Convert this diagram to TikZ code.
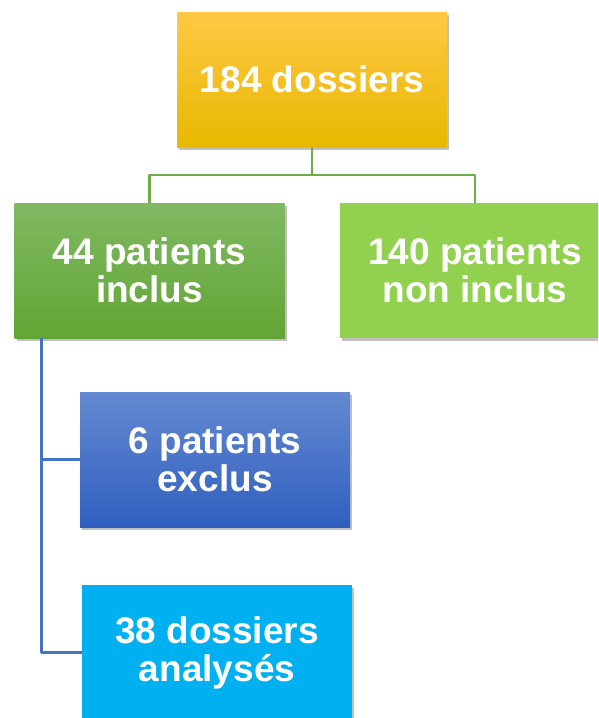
\documentclass[tikz,border=0pt]{standalone}
\usepackage{fontspec}
\setmainfont{Liberation Sans}
\usetikzlibrary{shadows}
\definecolor{orTop}{HTML}{FFC845}
\definecolor{orMid}{HTML}{FFC000}
\definecolor{orBot}{HTML}{E9B800}
\definecolor{grTop}{HTML}{80B962}
\definecolor{grMid}{HTML}{6EAE46}
\definecolor{grBot}{HTML}{62A535}
\definecolor{lgreen}{HTML}{92D050}
\definecolor{blTop}{HTML}{6589D1}
\definecolor{blMid}{HTML}{4472C4}
\definecolor{blBot}{HTML}{2F5FBF}
\definecolor{cyan}{HTML}{00B0F0}
\definecolor{lnGreen}{HTML}{70AD47}
\definecolor{lnBlue}{HTML}{4472C4}
\begin{document}
\begin{tikzpicture}[x=1pt,y=-1pt,line join=round,
  box/.style={minimum width=270pt,minimum height=135pt,inner sep=0pt,align=center,
    text=white,font=\bfseries\fontsize{37}{38}\selectfont,
    drop shadow={shadow xshift=2pt,shadow yshift=-3pt,opacity=0.25,fill=black}},
  link/.style={line width=2.4pt}]
\clip (0,0) rectangle (598,718);
\fill[white] (0,0) rectangle (598,718);
\path
(312,79.5) node[box,top color=orTop,middle color=orMid,bottom color=orBot] (tot) {184 dossiers}
(149.5,270.5) node[box,top color=grTop,middle color=grMid,bottom color=grBot] (inc) {44 patients\\inclus}
(475,270.5) node[box,fill=lgreen] (ninc) {140 patients\\non inclus}
(215,459.5) node[box,top color=blTop,middle color=blMid,bottom color=blBot] (exc) {6 patients\\exclus}
(217,652.5) node[box,fill=cyan] (ana) {38 dossiers\\analysés}
;
\draw[link,lnGreen] (tot.south) -- ++(0,28) coordinate (fork);
\foreach \b in {inc,ninc}
{\draw[link,lnGreen] (fork) -| (\b.north);}
\coordinate (trunk) at ([xshift=27pt]inc.south west);
\foreach \b in {exc,ana}
{\draw[link,lnBlue] (trunk) |- (\b.west);}
\end{tikzpicture}
\end{document}
